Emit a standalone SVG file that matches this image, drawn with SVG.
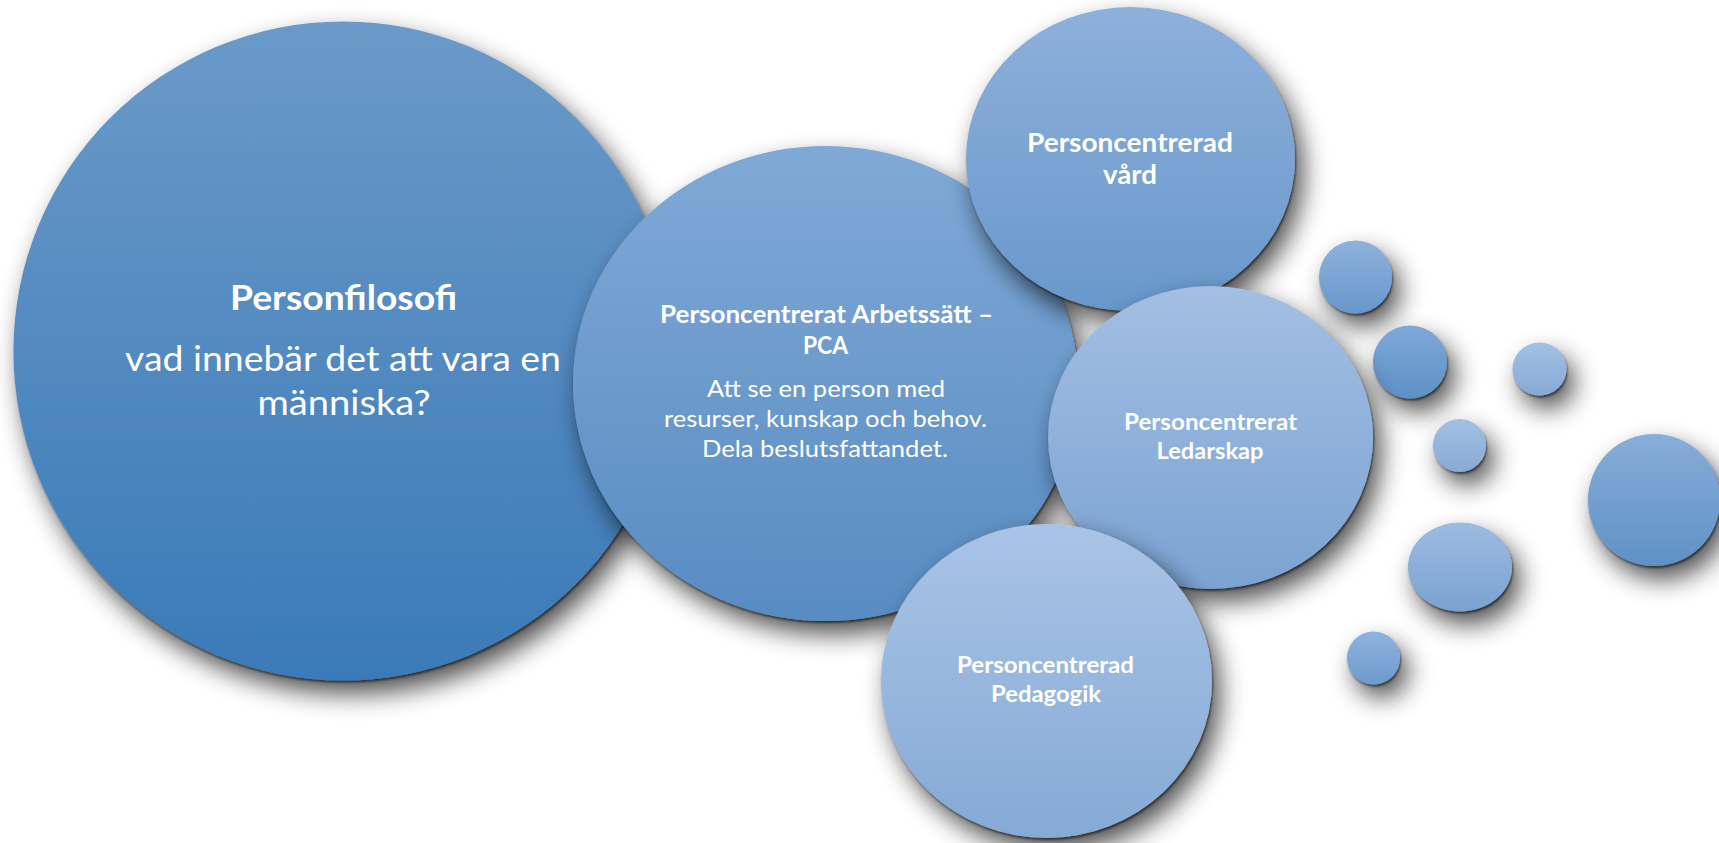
<svg xmlns="http://www.w3.org/2000/svg" width="1719" height="843" viewBox="0 0 1719 843">
<defs>
<style>
.t{font-family:Lato,"Noto Sans","Liberation Sans",sans-serif;fill:#FFFFFF;text-anchor:middle}
.b{font-weight:bold}
.r{font-weight:normal}
</style>
<filter id="sh" filterUnits="userSpaceOnUse" x="-100" y="-100" width="1919" height="1043">
<feGaussianBlur in="SourceAlpha" stdDeviation="13" result="b1"/>
<feOffset in="b1" dx="8" dy="13" result="o1"/>
<feComponentTransfer in="o1" result="s1"><feFuncA type="linear" slope="0.7"/></feComponentTransfer>
<feGaussianBlur in="SourceAlpha" stdDeviation="1.3" result="b2"/>
<feOffset in="b2" dx="1" dy="2" result="o2"/>
<feComponentTransfer in="o2" result="s2"><feFuncA type="linear" slope="0.55"/></feComponentTransfer>
<feMerge><feMergeNode in="s1"/><feMergeNode in="s2"/><feMergeNode in="SourceGraphic"/></feMerge>
</filter>
<linearGradient id="gBig" x1="0" y1="0" x2="0" y2="1"><stop offset="0" stop-color="#6B9AC8"/><stop offset="1" stop-color="#3A7AB8"/></linearGradient>
<linearGradient id="gPca" x1="0" y1="0" x2="0" y2="1"><stop offset="0" stop-color="#80A9D6"/><stop offset="1" stop-color="#588CC2"/></linearGradient>
<linearGradient id="gVard" x1="0" y1="0" x2="0" y2="1"><stop offset="0" stop-color="#8EB0DB"/><stop offset="1" stop-color="#6898CB"/></linearGradient>
<linearGradient id="gLed" x1="0" y1="0" x2="0" y2="1"><stop offset="0" stop-color="#A3BFE3"/><stop offset="1" stop-color="#7BA3D2"/></linearGradient>
<linearGradient id="gPed" x1="0" y1="0" x2="0" y2="1"><stop offset="0" stop-color="#A9C4E6"/><stop offset="1" stop-color="#85AAD5"/></linearGradient>
<linearGradient id="gS1" x1="0" y1="0" x2="0" y2="1"><stop offset="0" stop-color="#8FB2DC"/><stop offset="1" stop-color="#6797CB"/></linearGradient>
<linearGradient id="gS2" x1="0" y1="0" x2="0" y2="1"><stop offset="0" stop-color="#7EA8D8"/><stop offset="1" stop-color="#5E90C6"/></linearGradient>
<linearGradient id="gS3" x1="0" y1="0" x2="0" y2="1"><stop offset="0" stop-color="#A3C0E4"/><stop offset="1" stop-color="#86AAD6"/></linearGradient>
<linearGradient id="gS5" x1="0" y1="0" x2="0" y2="1"><stop offset="0" stop-color="#88ADD8"/><stop offset="1" stop-color="#5F91C6"/></linearGradient>
<linearGradient id="gS6" x1="0" y1="0" x2="0" y2="1"><stop offset="0" stop-color="#9DBBE2"/><stop offset="1" stop-color="#7AA2D0"/></linearGradient>
<linearGradient id="gS7" x1="0" y1="0" x2="0" y2="1"><stop offset="0" stop-color="#8FB3DF"/><stop offset="1" stop-color="#6D9BCD"/></linearGradient>
</defs>
<rect width="1719" height="843" fill="#FFFFFF"/>

<g id="small-circles">
<ellipse cx="1355.5" cy="277" rx="36.5" ry="36.5" fill="url(#gS1)" filter="url(#sh)"/>
<ellipse cx="1410" cy="362" rx="37" ry="36.5" fill="url(#gS2)" filter="url(#sh)"/>
<ellipse cx="1539.5" cy="369" rx="27" ry="26.5" fill="url(#gS3)" filter="url(#sh)"/>
<ellipse cx="1459.5" cy="445.5" rx="26.5" ry="26.5" fill="url(#gS3)" filter="url(#sh)"/>
<ellipse cx="1654" cy="500" rx="66" ry="66" fill="url(#gS5)" filter="url(#sh)"/>
<ellipse cx="1460" cy="567" rx="52" ry="44.5" fill="url(#gS6)" filter="url(#sh)"/>
<ellipse cx="1373.5" cy="658" rx="26.5" ry="26.5" fill="url(#gS7)" filter="url(#sh)"/>
</g>

<g id="personfilosofi">
<circle cx="343" cy="351" r="329.5" fill="url(#gBig)" filter="url(#sh)"/>
<text class="t b" x="343.5" y="310" font-size="35" textLength="227" lengthAdjust="spacingAndGlyphs">Personfilosofi</text>
<text class="t r" x="343" y="371" font-size="34" textLength="436" lengthAdjust="spacingAndGlyphs">vad innebär det att vara en</text>
<text class="t r" x="344" y="415" font-size="34" textLength="173" lengthAdjust="spacingAndGlyphs">människa?</text>
</g>

<g id="pca">
<ellipse cx="825.5" cy="383.5" rx="252.5" ry="237.5" fill="url(#gPca)" filter="url(#sh)"/>
<text class="t b" x="826.5" y="322.5" font-size="24" textLength="333" lengthAdjust="spacingAndGlyphs">Personcentrerat Arbetssätt –</text>
<text class="t b" x="825.5" y="353.5" font-size="24" textLength="45" lengthAdjust="spacingAndGlyphs">PCA</text>
<text class="t r" x="826" y="396.5" font-size="24" textLength="238" lengthAdjust="spacingAndGlyphs">Att se en person med</text>
<text class="t r" x="825.5" y="427" font-size="24" textLength="323" lengthAdjust="spacingAndGlyphs">resurser, kunskap och behov.</text>
<text class="t r" x="825" y="457" font-size="24" textLength="246" lengthAdjust="spacingAndGlyphs">Dela beslutsfattandet.</text>
</g>

<g id="vard">
<ellipse cx="1130.5" cy="159" rx="164.5" ry="152" fill="url(#gVard)" filter="url(#sh)"/>
<text class="t b" x="1130" y="152" font-size="26.5" textLength="206" lengthAdjust="spacingAndGlyphs">Personcentrerad</text>
<text class="t b" x="1130" y="183.5" font-size="26.5" textLength="54" lengthAdjust="spacingAndGlyphs">vård</text>
</g>

<g id="ledarskap">
<ellipse cx="1210.5" cy="437.5" rx="162.5" ry="151.5" fill="url(#gLed)" filter="url(#sh)"/>
<text class="t b" x="1210.5" y="429.5" font-size="22.5" textLength="173" lengthAdjust="spacingAndGlyphs">Personcentrerat</text>
<text class="t b" x="1210" y="458.5" font-size="22.5" textLength="107" lengthAdjust="spacingAndGlyphs">Ledarskap</text>
</g>

<g id="pedagogik">
<ellipse cx="1046.5" cy="681" rx="165.5" ry="157" fill="url(#gPed)" filter="url(#sh)"/>
<text class="t b" x="1045.5" y="673" font-size="22" textLength="177" lengthAdjust="spacingAndGlyphs">Personcentrerad</text>
<text class="t b" x="1046" y="702" font-size="22" textLength="110" lengthAdjust="spacingAndGlyphs">Pedagogik</text>
</g>
</svg>
